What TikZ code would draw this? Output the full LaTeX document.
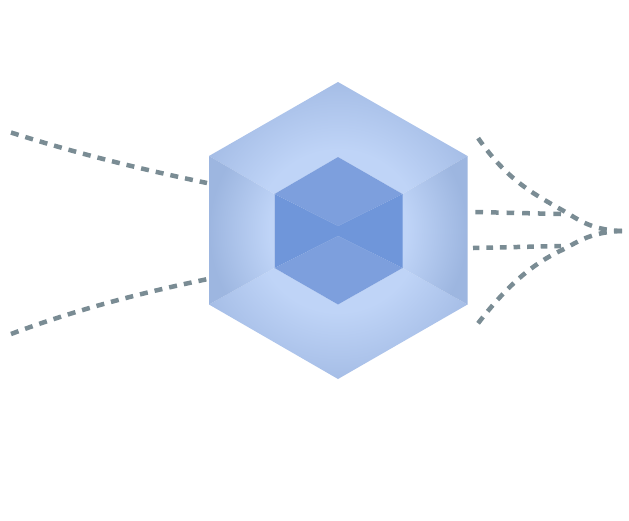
\documentclass[tikz,border=0pt]{standalone}
\definecolor{cA}{HTML}{BFD4F7}
\definecolor{cT}{HTML}{A5BDE6}
\definecolor{cS}{HTML}{9DB6E0}
\definecolor{topin}{HTML}{7D9FDD}
\definecolor{sidein}{HTML}{6F96DA}
\definecolor{dashc}{HTML}{7A8C94}
\pgfdeclareradialshading{hextop}{\pgfpoint{0bp}{0bp}}{color(0bp)=(cA); color(13.5bp)=(cA); color(25bp)=(cT); color(100bp)=(cT)}
\pgfdeclareradialshading{hexside}{\pgfpoint{0bp}{0bp}}{color(0bp)=(cA); color(11.5bp)=(cA); color(21.5bp)=(cS); color(100bp)=(cS)}
\tikzset{
  flow/.style={draw=dashc,line width=4.5pt,dash pattern=on 8pt off 7pt},
  face/.style={fill=#1,draw=none}
}
\begin{document}
\begin{tikzpicture}[x=1pt,y=-1pt]
\useasboundingbox (0,0) rectangle (629,520);
\fill[white] (0,0) rectangle (629,520);
% outer hexagon faces, each shaded
\begin{scope}
\clip (338,82) -- (467.5,156) -- (402.5,194) -- (338,157) -- (274.5,194) -- (209,156) -- cycle;
\shade[shading=hextop] (338,231) circle[radius=150];
\end{scope}
\begin{scope}
\clip (338,379) -- (467.5,304.5) -- (402.5,268) -- (338,304.5) -- (274.5,268) -- (209,304.5) -- cycle;
\shade[shading=hextop] (338,231) circle[radius=150];
\end{scope}
\begin{scope}
\clip (467.5,156) -- (402.5,194) -- (402.5,268) -- (467.5,304.5) -- cycle;
\shade[shading=hexside] (338,231) circle[radius=150];
\end{scope}
\begin{scope}
\clip (209,156) -- (274.5,194) -- (274.5,268) -- (209,304.5) -- cycle;
\shade[shading=hexside] (338,231) circle[radius=150];
\end{scope}
% inner cube
\fill[face=topin] (338,157) -- (402.5,194) -- (338,226) -- (274.5,194) -- cycle;
\fill[face=topin] (338,236) -- (402.5,268) -- (338,304.5) -- (274.5,268) -- cycle;
\fill[face=sidein] (274.5,194) -- (338,226) -- (402.5,194) -- (402.5,268) -- (338,236) -- (274.5,268) -- cycle;
% flows
\draw[flow] (11,132.5) .. controls (75,153) and (140,169) .. (207,183);
\draw[flow] (11,334) .. controls (75,310) and (140,293) .. (208,279);
\draw[flow,dash pattern=on 8pt off 7.3pt] (622,231) .. controls (590,230) and (578,219) .. (562,210) .. controls (530,192) and (505,178) .. (476,135);
\draw[flow,dash pattern=on 7.6pt off 8pt] (561,214) -- (475,212);
\draw[flow,dash pattern=on 6.7pt off 6.9pt] (561,246) -- (473,248);
\draw[flow,dash pattern=on 8pt off 7.3pt] (622,231) .. controls (590,232) and (578,242) .. (562,250) .. controls (530,265) and (505,288) .. (476,326);
\end{tikzpicture}
\end{document}
